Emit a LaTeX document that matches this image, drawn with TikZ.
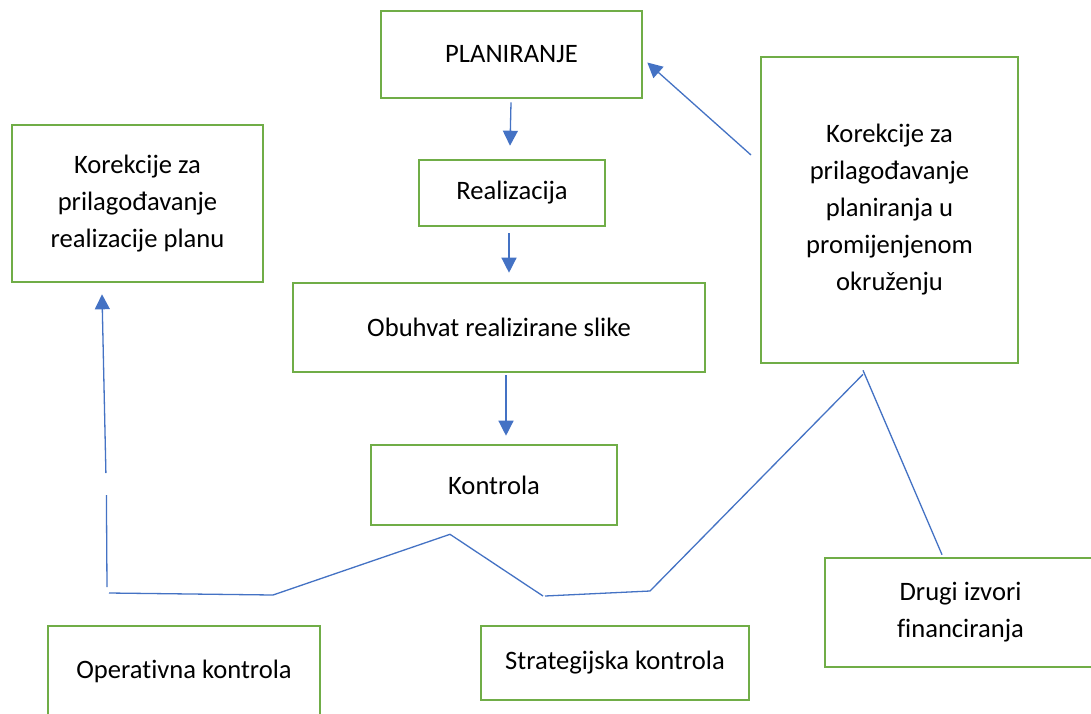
\documentclass[tikz,border=0pt]{standalone}
\usepackage{fontspec}
\setmainfont{Carlito}[Ligatures=NoCommon]
\usetikzlibrary{arrows.meta,calc}
\definecolor{boxgreen}{HTML}{70AD47}
\definecolor{linkblue}{HTML}{4472C4}
\begin{document}
\begin{tikzpicture}[x=1pt,y=-1pt,
  box/.style={draw=boxgreen,line width=2.6pt,rectangle,inner sep=0pt,align=center,
              font=\fontsize{26.6}{37}\selectfont},
  link/.style={draw=linkblue,line width=1.3pt},
  arr/.style={link,-{Triangle[width=15pt,length=15pt]}}]
\useasboundingbox (0,0) rectangle (1091,713);
\fill[white] (0,0) rectangle (1091,713);

\node[box,minimum width=261pt,minimum height=87pt] (plan) at (511.5,54.5) {PLANIRANJE};
\node[box,minimum width=251pt,minimum height=157pt] (korL) at (137.5,203.5) {Korekcije za\\prilagođavanje\\realizacije planu};
\node[box,minimum width=186pt,minimum height=66pt] (real) at (512,193) {Realizacija};
\node[box,minimum width=412pt,minimum height=89pt] (obuh) at (499,327.5) {Obuhvat realizirane slike};
\node[box,minimum width=246pt,minimum height=80pt] (kontr) at (494,485) {Kontrola};
\node[box,minimum width=257pt,minimum height=306pt] (korR) at (889.5,210) {Korekcije za\\prilagođavanje\\planiranja u\\promijenjenom\\okruženju};
\node[box,minimum width=271pt,minimum height=109pt] (drugi) at (960.5,612.5) {Drugi izvori\\financiranja};
\node[box,minimum width=272pt,minimum height=90pt] (oper) at (184,671) {Operativna kontrola};
\node[box,minimum width=268pt,minimum height=74pt] (strat) at (615,663) {Strategijska kontrola};

% vertical flow arrows
\draw[arr] ($(plan.south)+(-0.5,3)$) -- ($(real.north)+(-2,-13)$);
\draw[arr] ($(real.south)+(-3,6)$) -- ($(obuh.north)+(10,-9)$);
\draw[arr] ($(obuh.south)+(7,2)$) -- ($(kontr.north)+(12,-8)$);

% feedback to planning
\coordinate (fbp) at (751,155);
\draw[arr] (fbp) -- ($(plan.east)+(4,8)$);

% feedback to realisation (left)
\coordinate (lcorner) at (109,593);
\coordinate (lbot) at (107,587);
\coordinate (lgapb) at (106.4,495);
\coordinate (lgapt) at (105.9,473);
\draw[link] (lbot) -- (lgapb);
\draw[arr] (lgapt) -- ($(korL.south)+(-35.5,11)$);

% control branches
\coordinate (peak) at ($(kontr.south)+(-44,8)$);
\coordinate (la) at (273,595);
\coordinate (ra) at (543,596);
\coordinate (rb) at (545,596);
\coordinate (rc) at (650,591);
\coordinate (top) at ($(korR.south)+(-26.5,10)$);
\coordinate (top2) at ($(korR.south)+(-26.5,6)$);
\draw[link] (lcorner) -- (la) -- (peak) -- (ra);
\draw[link] (rb) -- (rc) -- (top);
\draw[link] (top2) -- ($(drugi.north)+(-18.5,-2)$);
\end{tikzpicture}
\end{document}
